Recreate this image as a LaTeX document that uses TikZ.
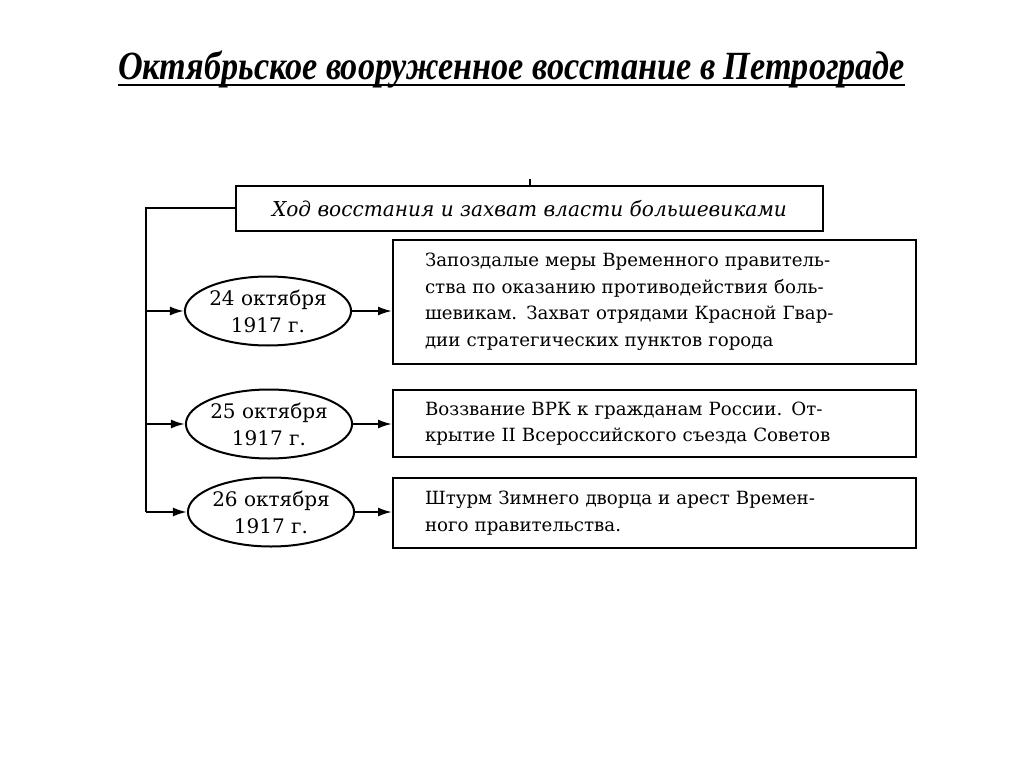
\documentclass[tikz,border=0pt]{standalone}
\usepackage{fontspec}
\usepackage{graphicx}
\setmainfont{Liberation Serif}
\newfontfamily\bodyfont{DejaVu Serif}
\usetikzlibrary{shapes.geometric,arrows.meta}
\begin{document}
\begin{tikzpicture}[x=1pt,y=-1pt,line width=2pt,
  box/.style={draw, rectangle, inner sep=0pt},
  textbox/.style={box, text width=459pt, inner xsep=32pt, align=left,
    font=\bodyfont\fontsize{18.2}{26.5}\selectfont},
  datenode/.style={draw, ellipse, minimum width=158pt, minimum height=69pt,
    inner sep=0pt, align=center, font=\bodyfont\fontsize{20}{27}\selectfont},
  arr/.style={-{Latex[length=14pt,width=9pt]}}]
\useasboundingbox (0,0) rectangle (1024,767);
% title
\node[anchor=base, inner sep=0pt, font=\fontsize{40}{44}\selectfont\bfseries\itshape] (title) at (511.5,80)
  {\resizebox{787pt}{\height}{Октябрьское вооруженное восстание в Петрограде}};
\coordinate (u1) at (118,85);
\coordinate (u2) at (905,85);
\draw[line width=2.5pt] (u1) -- (u2);
% top box
\node[box, minimum width=587pt, minimum height=45pt, font=\bodyfont\fontsize{20.5}{24}\selectfont\itshape] (top) at (529.5,208.5)
  {\resizebox{515pt}{\height}{Ход восстания и захват власти большевиками}};
\coordinate (tick) at ([yshift=6pt]top.north);
\draw (top.north) -- (tick);
% text boxes
\node[textbox, minimum height=124pt] (b1) at (654.5,302)
  {Запоздалые меры Временного правитель-\\ства по оказанию противодействия боль-\\шевикам. Захват отрядами Красной Гвар-\\дии стратегических пунктов города};
\node[textbox, minimum height=67pt] (b2) at (654.5,423.5)
  {Воззвание ВРК к гражданам России. От-\\крытие II Всероссийского съезда Советов};
\node[textbox, minimum height=70pt] (b3) at (654.5,513)
  {Штурм Зимнего дворца и арест Времен-\\ного правительства.};
% date ellipses
\node[datenode] (e1) at (268,311) {24 октября\\1917 г.};
\node[datenode] (e2) at (269,424) {25 октября\\1917 г.};
\node[datenode] (e3) at (271,512) {26 октября\\1917 г.};
% connectors
\coordinate (L0) at (146,208.5);
\coordinate (L1) at (L0 |- e1);
\coordinate (L2) at (L0 |- e2);
\coordinate (L3) at (L0 |- e3);
\draw (top.west) -- (L0) -- (L3);
\draw[arr] (L1) -- (e1.west);
\draw[arr] (L2) -- (e2.west);
\draw[arr] (L3) -- (e3.west);
\draw[arr] (e1.east) -- (e1.east -| b1.west);
\draw[arr] (e2.east) -- (e2.east -| b2.west);
\draw[arr] (e3.east) -- (e3.east -| b3.west);
\end{tikzpicture}
\end{document}
